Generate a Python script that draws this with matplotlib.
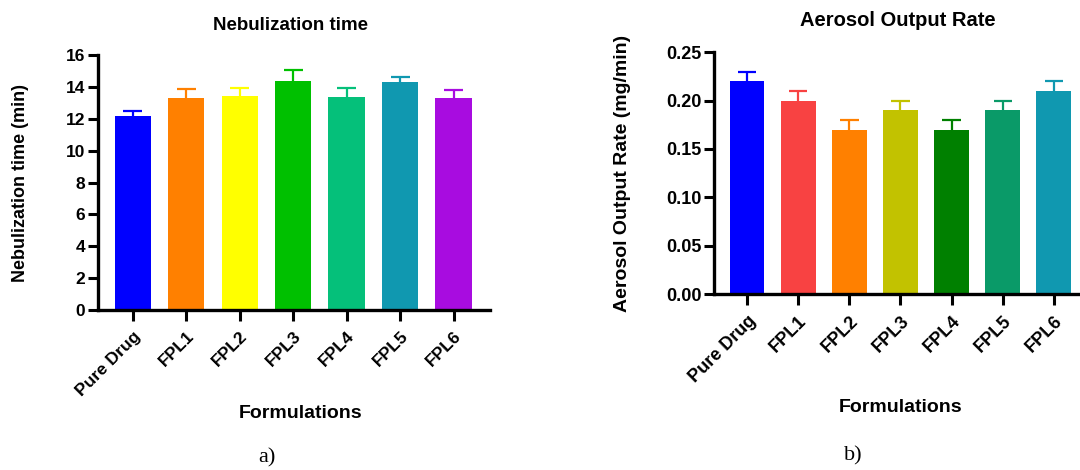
import matplotlib
matplotlib.use("Agg")
import matplotlib.pyplot as plt

plt.rcParams['font.family'] = ['Liberation Sans', 'DejaVu Sans']

# categories shared by both panels
formulations = ["Pure Drug", "FPL1", "FPL2", "FPL3", "FPL4", "FPL5", "FPL6"]

# a) nebulization time (min)
neb_time = [12.15, 13.28, 13.42, 14.4, 13.37, 14.28, 13.28]
neb_err = [0.35, 0.57, 0.5, 0.66, 0.55, 0.35, 0.55]
neb_colors = ["#0000FF", "#FF8000", "#FFFF00", "#00C000", "#05C07A", "#1098B0", "#A80CE0"]

# b) aerosol output rate (mg/min)
aor = [0.22, 0.20, 0.17, 0.19, 0.17, 0.19, 0.21]
aor_err = [0.01, 0.01, 0.01, 0.01, 0.01, 0.01, 0.01]
aor_colors = ["#0000FF", "#F84242", "#FF8000", "#C2C200", "#008000", "#0A9A68", "#1098B0"]

fig = plt.figure(figsize=(10.8, 4.7), dpi=100)
ax1 = fig.add_axes([0.0907, 0.340, 0.363, 0.543])
ax2 = fig.add_axes([0.661, 0.374, 0.347, 0.515])


def draw_panel(ax, values, errs, colors, ylabel, yfs, ylim, yticks, fmt, tfs):
    x = list(range(len(values)))
    ax.bar(x, values, width=0.68, color=colors, zorder=2)
    # upper-only error bars, starting at the bar top
    tops = [v + e for v, e in zip(values, errs)]
    ax.vlines(x, values, tops, colors=colors, linewidth=1.6, zorder=1)
    ax.hlines(tops, [xi - 0.18 for xi in x], [xi + 0.18 for xi in x],
              colors=colors, linewidth=1.6, zorder=1)
    ax.set_xlim(-0.65, len(values) - 1 + 0.68)
    ax.set_ylim(*ylim)
    ax.set_yticks(yticks)
    ax.set_yticklabels([fmt.format(t) for t in yticks], fontsize=tfs, fontweight="bold")
    ax.set_xticks(x)
    ax.set_xticklabels(formulations, rotation=45, ha="right", rotation_mode="anchor",
                       fontsize=tfs, fontweight="bold")
    for side in ["top", "right"]:
        ax.spines[side].set_visible(False)
    for side in ["left", "bottom"]:
        ax.spines[side].set_linewidth(2.4)
    ax.tick_params(axis="both", direction="out", length=7, width=2.2, pad=2)
    ax.tick_params(axis="x", length=8, pad=5)
    ax.set_ylabel(ylabel, fontsize=yfs, fontweight="bold")


draw_panel(ax1, neb_time, neb_err, neb_colors, "Nebulization time (min)", 13,
           (0, 16), list(range(0, 17, 2)), "{:d}", 12.5)
draw_panel(ax2, aor, aor_err, aor_colors, "Aerosol Output Rate (mg/min)", 14,
           (0, 0.25), [0, 0.05, 0.10, 0.15, 0.20, 0.25], "{:.2f}", 13)

ax1.yaxis.set_label_coords(-0.175, 0.5)
ax2.yaxis.set_label_coords(-0.222, 0.5)

fig.text(290 / 1080, 1 - 25 / 470, "Nebulization time", ha="center", va="center",
         fontsize=13.5, fontweight="bold")
fig.text(898 / 1080, 1 - 20 / 470, "Aerosol Output Rate", ha="center", va="center",
         fontsize=14.5, fontweight="bold")
fig.text(301 / 1080, 1 - 413 / 470, "Formulations", ha="center", va="center",
         fontsize=14, fontweight="bold")
fig.text(901 / 1080, 1 - 408 / 470, "Formulations", ha="center", va="center",
         fontsize=14, fontweight="bold")
fig.text(267 / 1080, 1 - 458 / 470, "a)", ha="center", va="center", fontsize=16,
         family="Liberation Serif")
fig.text(853 / 1080, 1 - 456 / 470, "b)", ha="center", va="center", fontsize=16,
         family="Liberation Serif")

fig.savefig("out.png", dpi=100)
